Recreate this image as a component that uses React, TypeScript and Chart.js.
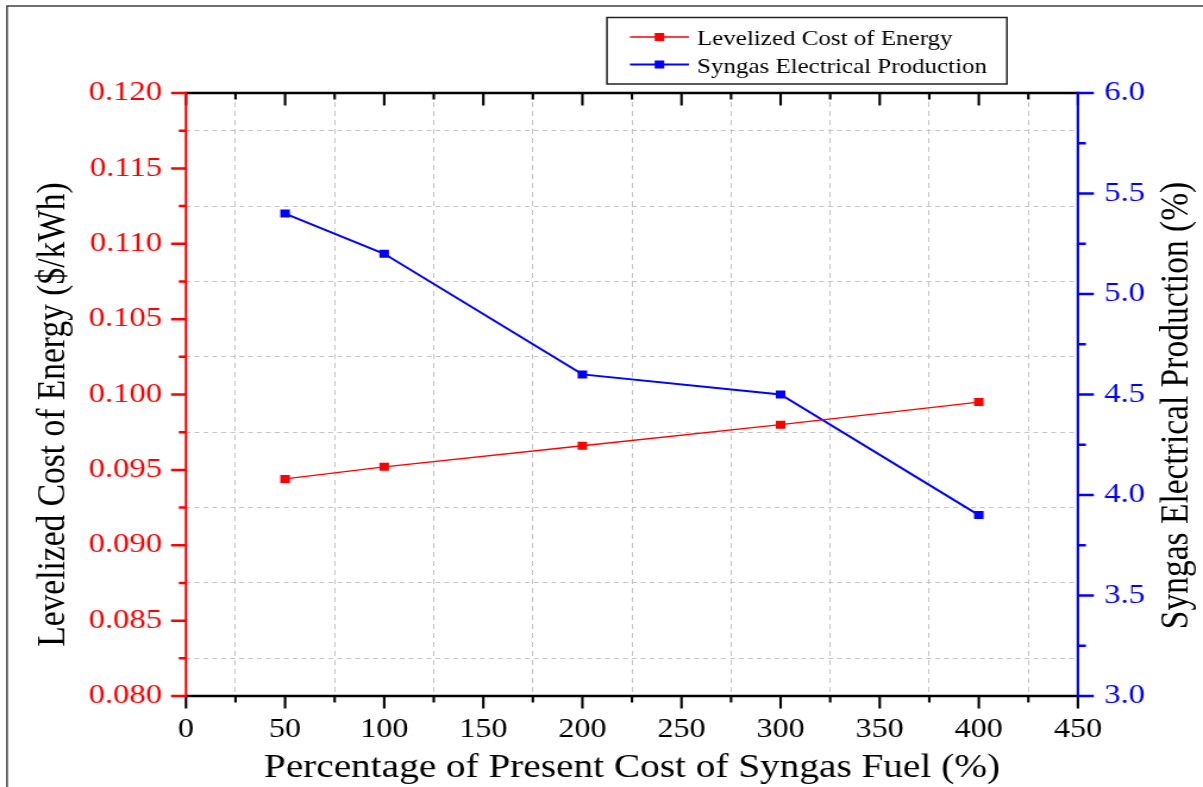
import { useEffect, useRef } from 'react';
import { Chart, registerables } from 'chart.js';

Chart.register(...registerables);

// ---- data ----
const fuelCostPct = [50, 100, 200, 300, 400];
const lcoe = [0.0944, 0.0952, 0.0966, 0.098, 0.0995];
const syngasProduction = [5.4, 5.2, 4.6, 4.5, 3.9];

const seriesLabels = ['Levelized Cost of Energy', 'Syngas Electrical Production'];
const xTitle = 'Percentage of Present Cost of Syngas Fuel (%)';
const yTitle = 'Levelized Cost of Energy ($/kWh)';
const y1Title = 'Syngas Electrical Production (%)';

const xRange = [0, 450];
const xMajor = 50;
const yRange = [0.08, 0.12];
const yMajor = 0.005;
const y1Range = [3, 6];
const y1Major = 0.5;

// ---- styling ----
const RED = '#ff0000';
const BLUE = '#0000ff';
const FONT = '"Liberation Serif", "Times New Roman", serif';
const SX = 1.19; // the canvas is drawn narrower and widened by CSS
const OUT_W = 1203;
const H = 787;
const W = Math.round(OUT_W / SX);

const PLOT = { left: 186 / SX, right: 1078 / SX, top: 93, bottom: 696 };

const isMajor = (v: number, step: number) => Math.abs(v / step - Math.round(v / step)) < 1e-6;

const drawSquare = (ctx: CanvasRenderingContext2D, x: number, y: number, color: string) => {
  ctx.fillStyle = color;
  ctx.fillRect(x - 4, y - 4, 8, 8);
};

const decorPlugin = {
  id: 'decor',
  beforeDraw(chart: any) {
    const { ctx } = chart;
    ctx.save();
    ctx.fillStyle = '#ffffff';
    ctx.fillRect(0, 0, chart.width, chart.height);
    // outer frame
    ctx.strokeStyle = '#333333';
    ctx.lineWidth = 1.4;
    ctx.strokeRect(5.9, 6, chart.width + 20, chart.height + 20);
    ctx.restore();
  },
  afterDraw(chart: any) {
    const { ctx, chartArea: a, scales } = chart;
    const xs = scales.x;
    const ys = scales.y;
    const y1s = scales.y1;
    ctx.save();
    ctx.lineCap = 'butt';

    // axis lines
    ctx.lineWidth = 2.5;
    ctx.strokeStyle = '#000000';
    ctx.beginPath();
    ctx.moveTo(a.left, a.bottom);
    ctx.lineTo(a.right, a.bottom);
    ctx.moveTo(a.left, a.top);
    ctx.lineTo(a.right, a.top);
    ctx.stroke();

    // x tick marks (bottom outward, top inward)
    ctx.lineWidth = 2.1;
    ctx.beginPath();
    xs.ticks.forEach((t: any) => {
      const px = xs.getPixelForValue(t.value);
      const len = isMajor(t.value, xMajor) ? 12.5 : 6.5;
      ctx.moveTo(px, a.bottom);
      ctx.lineTo(px, a.bottom + len);
      ctx.moveTo(px, a.top);
      ctx.lineTo(px, a.top + len);
    });
    ctx.stroke();

    // left axis
    ctx.strokeStyle = RED;
    ctx.lineWidth = 2.1;
    ctx.beginPath();
    ctx.moveTo(a.left, a.top - 1.2);
    ctx.lineTo(a.left, a.bottom + 1.2);
    ctx.stroke();
    ctx.lineWidth = 2.5;
    ctx.beginPath();
    ys.ticks.forEach((t: any) => {
      const py = ys.getPixelForValue(t.value);
      const len = isMajor(t.value, yMajor) ? 12.5 : 6;
      ctx.moveTo(a.left, py);
      ctx.lineTo(a.left - len, py);
    });
    ctx.stroke();

    // right axis
    ctx.strokeStyle = BLUE;
    ctx.lineWidth = 2.1;
    ctx.beginPath();
    ctx.moveTo(a.right, a.top - 1.2);
    ctx.lineTo(a.right, a.bottom + 1.2);
    ctx.stroke();
    ctx.lineWidth = 2.5;
    ctx.beginPath();
    y1s.ticks.forEach((t: any) => {
      const py = y1s.getPixelForValue(t.value);
      const len = isMajor(t.value, y1Major) ? 13.4 : 6.7;
      ctx.moveTo(a.right, py);
      ctx.lineTo(a.right + len, py);
    });
    ctx.stroke();

    // axis titles
    ctx.fillStyle = '#000000';
    ctx.textAlign = 'center';
    ctx.textBaseline = 'middle';
    const midY = (a.top + a.bottom) / 2;
    ctx.font = `33px ${FONT}`;
    ctx.fillText(xTitle, (a.left + a.right) / 2, 768);

    ctx.font = `33.5px ${FONT}`;
    ctx.save();
    ctx.translate(45, midY + 20);
    ctx.rotate(-Math.PI / 2);
    ctx.fillText(yTitle, 0, 0);
    ctx.restore();

    ctx.save();
    ctx.translate(989, midY + 11);
    ctx.rotate(-Math.PI / 2);
    ctx.fillText(y1Title, 0, 0);
    ctx.restore();

    // legend
    const bx = 607 / SX;
    const bw = 400 / SX;
    ctx.strokeStyle = '#222222';
    ctx.lineWidth = 1.5;
    ctx.strokeRect(bx, 17.5, bw, 66.5);
    const rows = [
      { label: chart.data.datasets[0].label, color: RED, y: 37, lw: 1.3 },
      { label: chart.data.datasets[1].label, color: BLUE, y: 64.5, lw: 2 },
    ];
    const lx0 = 630 / SX;
    const lx1 = 689 / SX;
    ctx.font = `21px ${FONT}`;
    ctx.textAlign = 'left';
    ctx.textBaseline = 'alphabetic';
    rows.forEach((r) => {
      ctx.strokeStyle = r.color;
      ctx.lineWidth = r.lw;
      ctx.beginPath();
      ctx.moveTo(lx0, r.y);
      ctx.lineTo(lx1, r.y);
      ctx.stroke();
      drawSquare(ctx, (lx0 + lx1) / 2, r.y, r.color);
      ctx.fillStyle = '#000000';
      ctx.fillText(r.label, 697 / SX, r.y + 8);
    });

    ctx.restore();
  },
};

export default function App() {
  const canvasRef = useRef<HTMLCanvasElement | null>(null);

  useEffect(() => {
    const canvas = canvasRef.current;
    if (!canvas) return;

    const gridColor = (major: number) => (c: any) => {
      const v = c.tick ? c.tick.value : 0;
      return isMajor(v, major) ? 'rgba(0,0,0,0)' : '#c4c4c4';
    };

    const chart = new Chart(canvas, {
      type: 'line',
      data: {
        datasets: [
          {
            label: seriesLabels[0],
            data: fuelCostPct.map((x, i) => ({ x, y: lcoe[i] })),
            yAxisID: 'y',
            borderColor: RED,
            backgroundColor: RED,
            borderWidth: 1.3,
            pointStyle: 'rect',
            pointRadius: 5.66,
            pointBackgroundColor: RED,
            pointBorderColor: RED,
            pointBorderWidth: 0,
            tension: 0,
          },
          {
            label: seriesLabels[1],
            data: fuelCostPct.map((x, i) => ({ x, y: syngasProduction[i] })),
            yAxisID: 'y1',
            borderColor: BLUE,
            backgroundColor: BLUE,
            borderWidth: 2,
            pointStyle: 'rect',
            pointRadius: 5.66,
            pointBackgroundColor: BLUE,
            pointBorderColor: BLUE,
            pointBorderWidth: 0,
            tension: 0,
          },
        ],
      },
      options: {
        responsive: false,
        animation: false,
        devicePixelRatio: 1,
        layout: { padding: { top: PLOT.top, left: 0, right: 0, bottom: 0 } },
        plugins: { legend: { display: false }, tooltip: { enabled: false } },
        scales: {
          x: {
            type: 'linear',
            min: xRange[0],
            max: xRange[1],
            afterFit: (s: any) => {
              s.height = H - PLOT.bottom;
            },
            ticks: {
              stepSize: xMajor / 2,
              autoSkip: false,
              maxRotation: 0,
              minRotation: 0,
              padding: 18,
              color: '#000000',
              font: { family: FONT, size: 27 },
              callback: (v: any) => (isMajor(Number(v), xMajor) ? String(Math.round(Number(v))) : ''),
            },
            grid: { color: gridColor(xMajor), lineWidth: 1, drawTicks: false },
            border: { display: false, dash: [5, 4] },
          },
          y: {
            type: 'linear',
            position: 'left',
            min: yRange[0],
            max: yRange[1],
            afterFit: (s: any) => {
              s.width = PLOT.left;
            },
            ticks: {
              stepSize: yMajor / 2,
              autoSkip: false,
              padding: 20,
              color: RED,
              font: { family: FONT, size: 27.5 },
              callback: (v: any) => (isMajor(Number(v), yMajor) ? Number(v).toFixed(3) : ''),
            },
            grid: { color: gridColor(yMajor), lineWidth: 1, drawTicks: false },
            border: { display: false, dash: [4, 3.5] },
          },
          y1: {
            type: 'linear',
            position: 'right',
            min: y1Range[0],
            max: y1Range[1],
            afterFit: (s: any) => {
              s.width = W - PLOT.right;
            },
            ticks: {
              stepSize: y1Major / 2,
              autoSkip: false,
              padding: 22,
              color: BLUE,
              font: { family: FONT, size: 27.5 },
              callback: (v: any) => (isMajor(Number(v), y1Major) ? Number(v).toFixed(1) : ''),
            },
            grid: { drawOnChartArea: false, drawTicks: false },
            border: { display: false },
          },
        },
      },
      plugins: [decorPlugin],
    } as any);

    return () => chart.destroy();
  }, []);

  return (
    <div style={{ position: 'fixed', left: 0, top: 0, width: OUT_W, height: H, background: '#ffffff' }}>
      <canvas
        ref={canvasRef}
        width={W}
        height={H}
        style={{ display: 'block', width: `${OUT_W}px`, height: `${H}px` }}
      />
    </div>
  );
}
